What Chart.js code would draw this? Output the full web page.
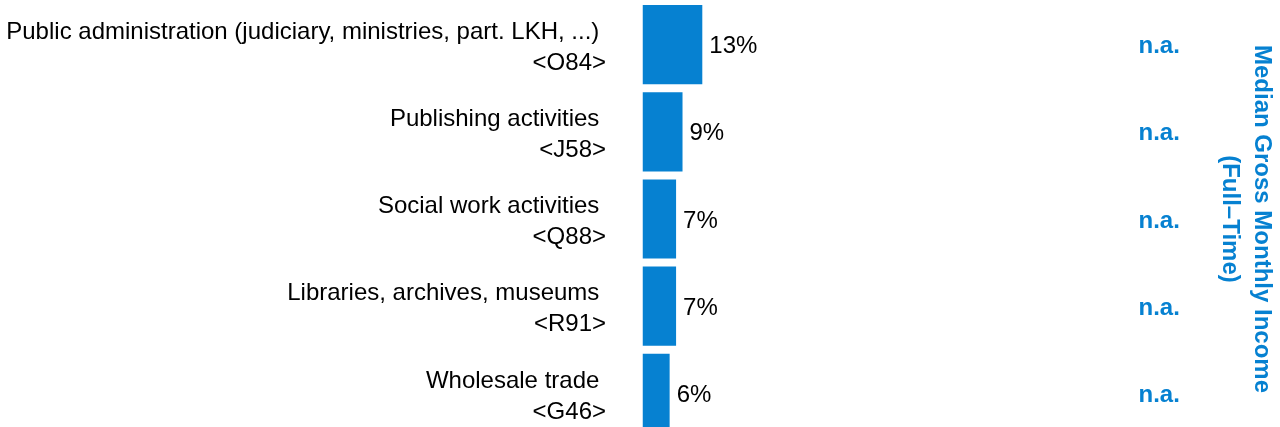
<!DOCTYPE html>
<html>
<head>
<meta charset="utf-8">
<script src="https://cdn.jsdelivr.net/npm/chart.js@4.4.1/dist/chart.umd.min.js"></script>
<style>
  html, body { margin: 0; padding: 0; background: #fff; overflow: hidden; }
  #wrap { position: relative; width: 1280px; height: 437px; }
</style>
</head>
<body>
<div id="wrap"><canvas id="c"></canvas></div>
<script>
// ---- data ----
const categories = [
  ['Public administration (judiciary, ministries, part. LKH, ...) ', '<O84>'],
  ['Publishing activities ', '<J58>'],
  ['Social work activities ', '<Q88>'],
  ['Libraries, archives, museums ', '<R91>'],
  ['Wholesale trade ', '<G46>']
];
const shareValues = [13.0, 8.7, 7.3, 7.3, 5.9];
const shareLabels = ['13%', '9%', '7%', '7%', '6%'];
const incomeLabels = ['n.a.', 'n.a.', 'n.a.', 'n.a.', 'n.a.'];
const incomeTitle = ['Median Gross Monthly Income', '(Full\u2013Time)'];

const BLUE = '#0681D1';
const FONT = 'Liberation Sans, Arial, Helvetica, sans-serif';

const valueLabelPlugin = {
  id: 'valueLabels',
  afterDatasetsDraw(chart) {
    const ctx = chart.ctx;
    const meta = chart.getDatasetMeta(0);
    ctx.save();
    ctx.font = '24px ' + FONT;
    ctx.fillStyle = '#000';
    ctx.textAlign = 'left';
    ctx.textBaseline = 'middle';
    meta.data.forEach((bar, i) => {
      ctx.fillText(shareLabels[i], bar.x + 7, bar.y + 2);
    });
    ctx.restore();
  }
};

new Chart(document.getElementById('c'), {
  type: 'bar',
  data: {
    labels: categories,
    datasets: [{
      data: shareValues,
      backgroundColor: BLUE,
      borderWidth: 0,
      barPercentage: 0.908,
      categoryPercentage: 1.0
    }]
  },
  options: {
    indexAxis: 'y',
    responsive: true,
    maintainAspectRatio: false,
    animation: false,
    devicePixelRatio: 1,
    layout: { padding: { top: 1, bottom: 0, left: 0, right: 0 } },
    plugins: {
      legend: { display: false },
      tooltip: { enabled: false },
      title: { display: false }
    },
    scales: {
      x: {
        display: false,
        min: 0,
        max: 100
      },
      y: {
        position: 'left',
        grid: { display: false, drawTicks: false },
        border: { display: false },
        ticks: {
          color: '#000',
          font: { family: FONT, size: 24, lineHeight: 1.29 },
          padding: 36.5,
          labelOffset: 3,
          autoSkip: false
        },
        afterFit(scale) {
          scale.width = 642.5;
          scale.paddingTop = 0;
          scale.paddingBottom = 0;
        }
      },
      y2: {
        type: 'category',
        position: 'right',
        labels: incomeLabels,
        offset: true,
        grid: { display: false, drawTicks: false },
        border: { display: false },
        ticks: {
          color: BLUE,
          font: { family: FONT, size: 24, weight: 'bold' },
          padding: 36,
          labelOffset: 2,
          autoSkip: false
        },
        title: {
          display: true,
          text: incomeTitle,
          color: BLUE,
          font: { family: FONT, size: 24, weight: 'bold', lineHeight: 1.333 },
          padding: { top: 2, bottom: 0 }
        },
        afterFit(scale) {
          scale.width = 177.5;
          scale.paddingTop = 0;
          scale.paddingBottom = 0;
        }
      }
    }
  },
  plugins: [valueLabelPlugin]
});
</script>
</body>
</html>
